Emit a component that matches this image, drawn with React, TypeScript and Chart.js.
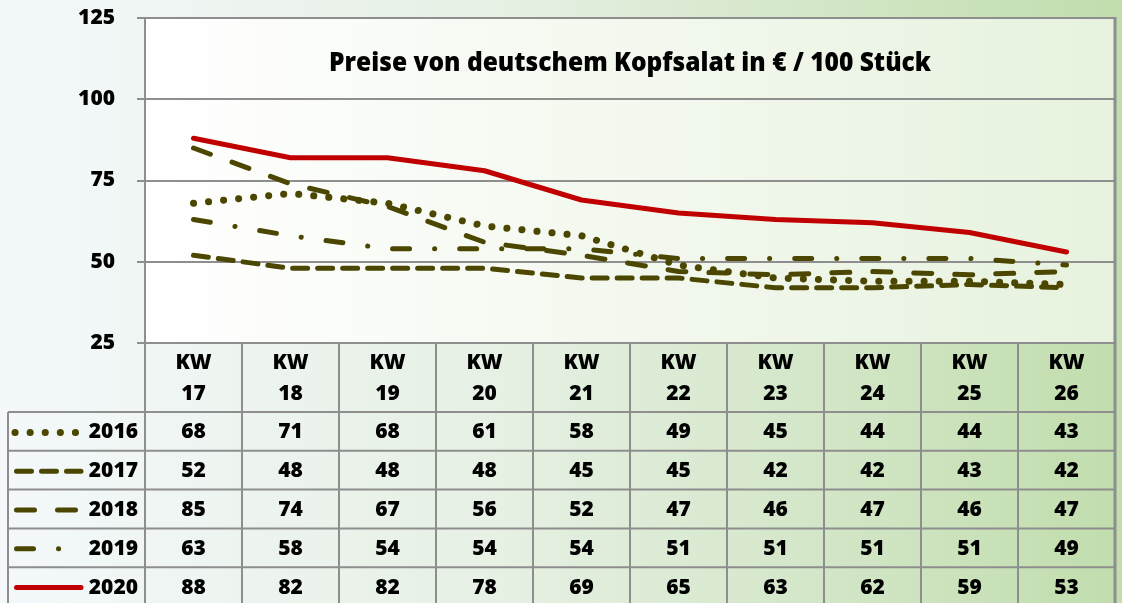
import React, { useEffect, useRef } from "react";
import { Chart, registerables } from "chart.js";

Chart.register(...registerables);

// ---------- data ----------
const weekPrefix = "KW";
const weeks = ["17", "18", "19", "20", "21", "22", "23", "24", "25", "26"];
const seriesYears = ["2016", "2017", "2018", "2019", "2020"];
const values2016 = [68, 71, 68, 61, 58, 49, 45, 44, 44, 43];
const values2017 = [52, 48, 48, 48, 45, 45, 42, 42, 43, 42];
const values2018 = [85, 74, 67, 56, 52, 47, 46, 47, 46, 47];
const values2019 = [63, 58, 54, 54, 54, 51, 51, 51, 51, 49];
const values2020 = [88, 82, 82, 78, 69, 65, 63, 62, 59, 53];
const yMin = 25;
const yMax = 125;
const yStep = 25;
const titleText = "Preise von deutschem Kopfsalat in € / 100 Stück";

// ---------- styles ----------
const OLIVE = "#4b4600";
const RED = "#c00000";
const GRID = "#8e8e8e";
const FONT = "'Open Sans', 'Noto Sans', sans-serif";
const WEIGHT = "800";

const seriesValues = [values2016, values2017, values2018, values2019, values2020];
const seriesStyle = [
  { color: OLIVE, width: 7, dash: [0.1, 15] },
  { color: OLIVE, width: 5, dash: [15, 10] },
  { color: OLIVE, width: 5, dash: [18, 23] },
  { color: OLIVE, width: 5, dash: [17, 25, 0.1, 25] },
  { color: RED, width: 5, dash: [] as number[] },
];

const decoPlugin = {
  id: "deco",
  beforeDraw(chart: any) {
    const { ctx, width, height, chartArea: a } = chart;
    ctx.save();
    const g = ctx.createLinearGradient(0, 0, width, 0);
    g.addColorStop(0, "#f4f8fb");
    g.addColorStop(0.45, "#e6f0e3");
    g.addColorStop(1, "#c1ddad");
    ctx.fillStyle = g;
    ctx.fillRect(0, 0, width, height);
    const g2 = ctx.createLinearGradient(a.left, 0, a.right, 0);
    g2.addColorStop(0, "#ffffff");
    g2.addColorStop(1, "#e7f2de");
    ctx.fillStyle = g2;
    ctx.fillRect(a.left, a.top, a.right - a.left, a.bottom - a.top);
    ctx.restore();
  },
  afterDraw(chart: any) {
    const { ctx, height, chartArea: a } = chart;
    const xs = chart.scales.x;
    const n = weeks.length;
    const colW = (a.right - a.left) / n;
    ctx.save();

    // frame of plot
    ctx.strokeStyle = GRID;
    ctx.lineWidth = 2;
    ctx.strokeRect(a.left, a.top, a.right - a.left, a.bottom - a.top);
    ctx.lineWidth = 3;
    ctx.beginPath();
    ctx.moveTo(a.right, a.top - 1);
    ctx.lineTo(a.right, height);
    ctx.stroke();

    // title (slightly condensed to match the original's narrow face)
    const fs = 27;
    ctx.font = `${WEIGHT} ${fs}px ${FONT}`;
    const w = ctx.measureText(titleText).width;
    const sx = Math.min(1, 602 / w);
    ctx.save();
    ctx.translate((a.left + a.right) / 2, a.top + 45);
    ctx.scale(sx, 1);
    ctx.fillStyle = "#000";
    ctx.textAlign = "center";
    ctx.textBaseline = "middle";
    ctx.fillText(titleText, 0, 0);
    ctx.restore();

    // table
    const headerBottom = a.bottom + 69;
    const rowH = 38.8;
    const legendLeft = 8;
    ctx.strokeStyle = GRID;
    ctx.lineWidth = 2;
    ctx.beginPath();
    for (let r = 0; r <= seriesYears.length; r++) {
      const y = headerBottom + r * rowH;
      ctx.moveTo(legendLeft, y);
      ctx.lineTo(a.right, y);
    }
    ctx.moveTo(legendLeft, headerBottom);
    ctx.lineTo(legendLeft, height);
    ctx.moveTo(a.left, a.bottom);
    ctx.lineTo(a.left, height);
    for (let i = 0; i < n - 1; i++) {
      const x = xs.getPixelForValue(i) + colW / 2;
      ctx.moveTo(x, a.bottom);
      ctx.lineTo(x, height);
    }
    ctx.stroke();

    ctx.font = `${WEIGHT} 21px ${FONT}`;
    ctx.fillStyle = "#000";
    ctx.textAlign = "center";
    ctx.textBaseline = "middle";
    for (let i = 0; i < n; i++) {
      const cx = xs.getPixelForValue(i);
      ctx.fillText(weekPrefix, cx, a.bottom + 20);
      ctx.fillText(weeks[i], cx, a.bottom + 51);
      for (let r = 0; r < seriesYears.length; r++) {
        const cy = headerBottom + r * rowH + rowH / 2 + 1;
        ctx.fillText(String(seriesValues[r][i]), cx, cy);
      }
    }
    // legend column
    for (let r = 0; r < seriesYears.length; r++) {
      const cy = headerBottom + r * rowH + rowH / 2 + 1;
      const st = seriesStyle[r];
      ctx.save();
      ctx.strokeStyle = st.color;
      ctx.lineWidth = st.width;
      ctx.lineCap = "round";
      ctx.setLineDash(st.dash);
      ctx.beginPath();
      const x0 = r === 0 ? 15 : 16.5;
      ctx.moveTo(x0, cy);
      ctx.lineTo(81, cy);
      ctx.stroke();
      ctx.restore();
      ctx.textAlign = "right";
      ctx.fillStyle = "#000";
      ctx.fillText(seriesYears[r], a.left - 7, cy);
    }
    ctx.restore();
  },
};

export default function App() {
  const ref = useRef<HTMLCanvasElement | null>(null);
  useEffect(() => {
    if (!ref.current) return;
    const labels = weeks.map((w) => `${weekPrefix} ${w}`);
    const chart = new Chart(ref.current, {
      type: "line",
      data: {
        labels,
        datasets: seriesYears.map((year, i) => ({
          label: year,
          data: seriesValues[i],
          borderColor: seriesStyle[i].color,
          borderWidth: seriesStyle[i].width,
          borderDash: seriesStyle[i].dash,
          borderCapStyle: "round" as const,
          borderJoinStyle: "round" as const,
          pointRadius: 0,
          tension: 0,
          fill: false,
          order: i === 4 ? -1 : 0,
        })),
      },
      options: {
        responsive: false,
        animation: false,
        layout: { padding: { top: 18, right: 7, bottom: 260, left: 0 } },
        plugins: {
          legend: { display: false },
          tooltip: { enabled: false },
          title: { display: false },
        },
        scales: {
          x: {
            type: "category",
            display: false,
            offset: true,
            grid: { display: false },
          },
          y: {
            min: yMin,
            max: yMax,
            afterFit: (scale: any) => {
              scale.width = 145;
              scale.paddingTop = 0;
              scale.paddingBottom = 0;
            },
            ticks: {
              stepSize: yStep,
              padding: 22,
              color: "#000",
              font: { family: FONT, size: 21, weight: WEIGHT },
            },
            grid: {
              color: GRID,
              lineWidth: 2,
              drawTicks: true,
              tickLength: 8,
            },
            border: { display: true, color: GRID, width: 2 },
          },
        },
      },
      plugins: [decoPlugin],
    });
    return () => chart.destroy();
  }, []);
  return (
    <div style={{ position: "absolute", left: 0, top: 0, width: 1122, height: 603 }}>
      <canvas ref={ref} width={1122} height={603} style={{ display: "block" }} />
    </div>
  );
}
